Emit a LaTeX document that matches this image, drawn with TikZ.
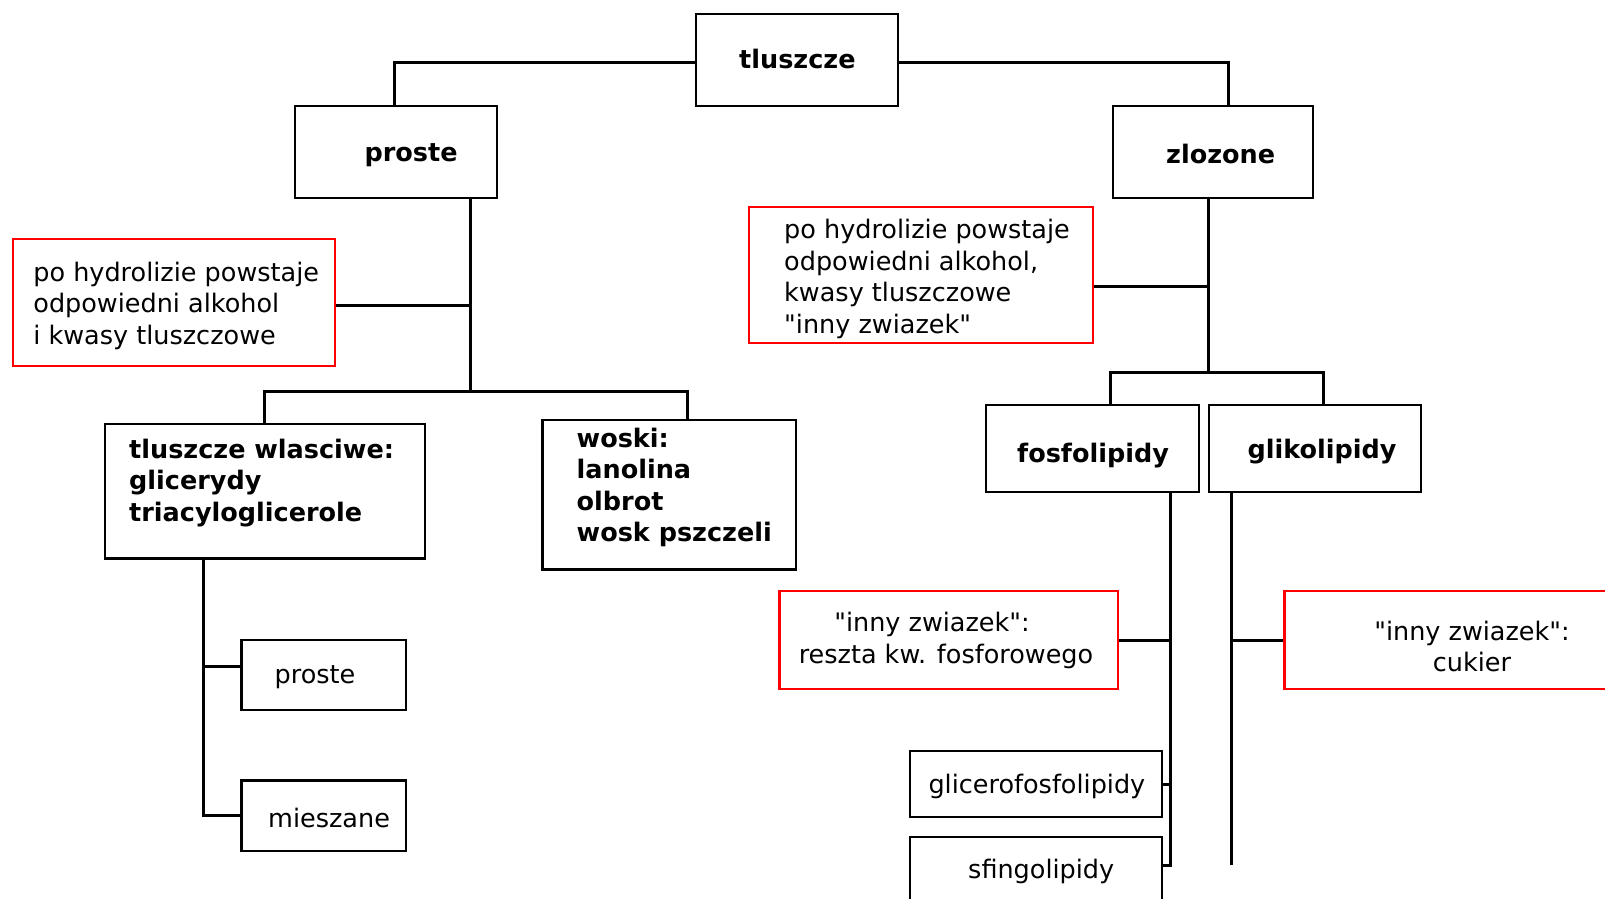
\documentclass[tikz,border=0pt]{standalone}
\usepackage{fontspec}
\setmainfont{DejaVu Sans}[Ligatures=TeXOff]
\begin{document}
\begin{tikzpicture}[x=1pt,y=-1pt,
  box/.style={draw=black, line width=2.2pt, inner sep=0pt, anchor=north west},
  rbox/.style={draw=red, line width=2.2pt, inner sep=0pt, anchor=north west},
  conn/.style={line width=3pt},
  txt/.style={font=\fontsize{25.5}{31.4}\selectfont, inner sep=0pt, anchor=base west, align=left},
  btxt/.style={txt, font=\fontsize{25.5}{31.4}\selectfont\bfseries},
  ctxt/.style={font=\fontsize{25.5}{31.6}\selectfont, inner sep=0pt, anchor=base, align=center}]
\useasboundingbox (0,0) rectangle (1605,898);
% boxes
\node[box, minimum width=202pt, minimum height=92pt] (t) at (695,12.7) {};
\node[box, minimum width=202pt, minimum height=92pt] (p) at (294,104.7) {};
\node[box, minimum width=200.5pt, minimum height=92pt] (z) at (1111.7,104.7) {};
\node[rbox, minimum width=322pt, minimum height=127.3pt] (r1) at (12.2,237.7) {};
\node[rbox, minimum width=343.8pt, minimum height=136pt] (r2) at (748,206) {};
\node[box, minimum width=319.5pt, minimum height=134.6pt] (tw) at (104,422.7) {};
\node[box, minimum width=253.7pt, minimum height=149.6pt] (wo) at (541.3,418.7) {};
\node[box, minimum width=164.3pt, minimum height=70.3pt] (p2) at (240.3,638.7) {};
\node[box, minimum width=164.3pt, minimum height=70.7pt] (m) at (240.3,779.3) {};
\node[box, minimum width=213.2pt, minimum height=87pt] (f) at (984.5,404) {};
\node[box, minimum width=212.6pt, minimum height=87pt] (g) at (1207.5,404) {};
\node[rbox, minimum width=338.6pt, minimum height=98pt] (r3) at (778.4,590) {};
\node[rbox, minimum width=340pt, minimum height=98pt] (r4) at (1283.3,590) {};
\node[box, minimum width=251.8pt, minimum height=66pt] (gf) at (909.2,750) {};
\node[box, minimum width=251.8pt, minimum height=90pt] (sf) at (909.2,835.7) {};
% texts (multi-line nodes are placed by the baseline of their last line)
\node[btxt] (tT) at (739,68) {tluszcze};
\node[btxt] (pT) at (364.4,161) {proste};
\node[btxt] (zT) at (1166,163) {zlozone};
\node[txt] (r1T) at (33.2,344) {po hydrolizie powstaje\\odpowiedni alkohol\\i kwasy tluszczowe};
\node[txt] (r2T) at (784,333) {po hydrolizie powstaje\\odpowiedni alkohol,\\kwasy tluszczowe\\"inny zwiazek"};
\node[btxt] (twT) at (129,521) {tluszcze wlasciwe:\\glicerydy\\triacyloglicerole};
\node[btxt] (woT) at (576.5,541.5) {woski:\\lanolina\\olbrot\\wosk pszczeli};
\node[txt] (p2T) at (274.5,683.3) {proste};
\node[txt] (mT) at (268,827.7) {mieszane};
\node[btxt] (fT) at (1017,462.7) {fosfolipidy};
\node[btxt] (gT) at (1247.3,458.3) {glikolipidy};
\node[ctxt] (r3T) at (946,663.3) {"inny zwiazek":\hspace*{28pt}\\reszta kw. fosforowego};
\node[ctxt] (r4T) at (1472,671.6) {"inny zwiazek":\\cukier};
\node[txt] (gfT) at (928.3,793.3) {glicerofosfolipidy};
\node[txt] (sfT) at (968,878.3) {sfingolipidy};
% coordinates
\coordinate (pbar) at (470,391.7);
\coordinate (twl) at (203.6,816);
\coordinate (zb) at (1208.2,372.3);
\coordinate (fl) at (1170.4,865);
\coordinate (gl) at (1231,865);
\path ([yshift=-2.6pt]t.west) coordinate (tw1) ([yshift=-2.6pt]t.east) coordinate (te1)
      ([xshift=15.6pt]z.north) coordinate (zn) ([yshift=-2.6pt]r1.east) coordinate (r1e)
      ([yshift=-11.3pt]r2.east) coordinate (r2e) ([yshift=8pt]p2.west) coordinate (p2w)
      ([xshift=18.7pt]wo.north) coordinate (won)
      ([xshift=18pt]f.north) coordinate (fn) ([xshift=8.2pt]g.north) coordinate (gn);
% connectors
\draw[conn] (tw1) -| ([xshift=-1.5pt]p.north);
\draw[conn] (te1) -| (zn);
\draw[conn] (p.south -| pbar) -- (pbar);
\draw[conn] (r1e) -- (r1e -| pbar);
\draw[conn] (tw.north) |- (pbar) -| (won);
\draw[conn] (tw.south -| twl) |- (m.west);
\draw[conn] (p2w) -- (p2w -| twl);
\draw[conn] (z.south -| zb) -- (zb);
\draw[conn] (r2e) -- (r2e -| zb);
\draw[conn] (fn) |- (zb) -| (gn);
\draw[conn] (f.south -| fl) -- (fl) -- (fl -| sf.east);
\draw[conn] (r3.east) -- (r3.east -| fl);
\draw[conn] (gf.east) -- (gf.east -| fl);
\draw[conn] (g.south -| gl) -- (gl);
\draw[conn] (r4.west) -- (r4.west -| gl);
\end{tikzpicture}
\end{document}
